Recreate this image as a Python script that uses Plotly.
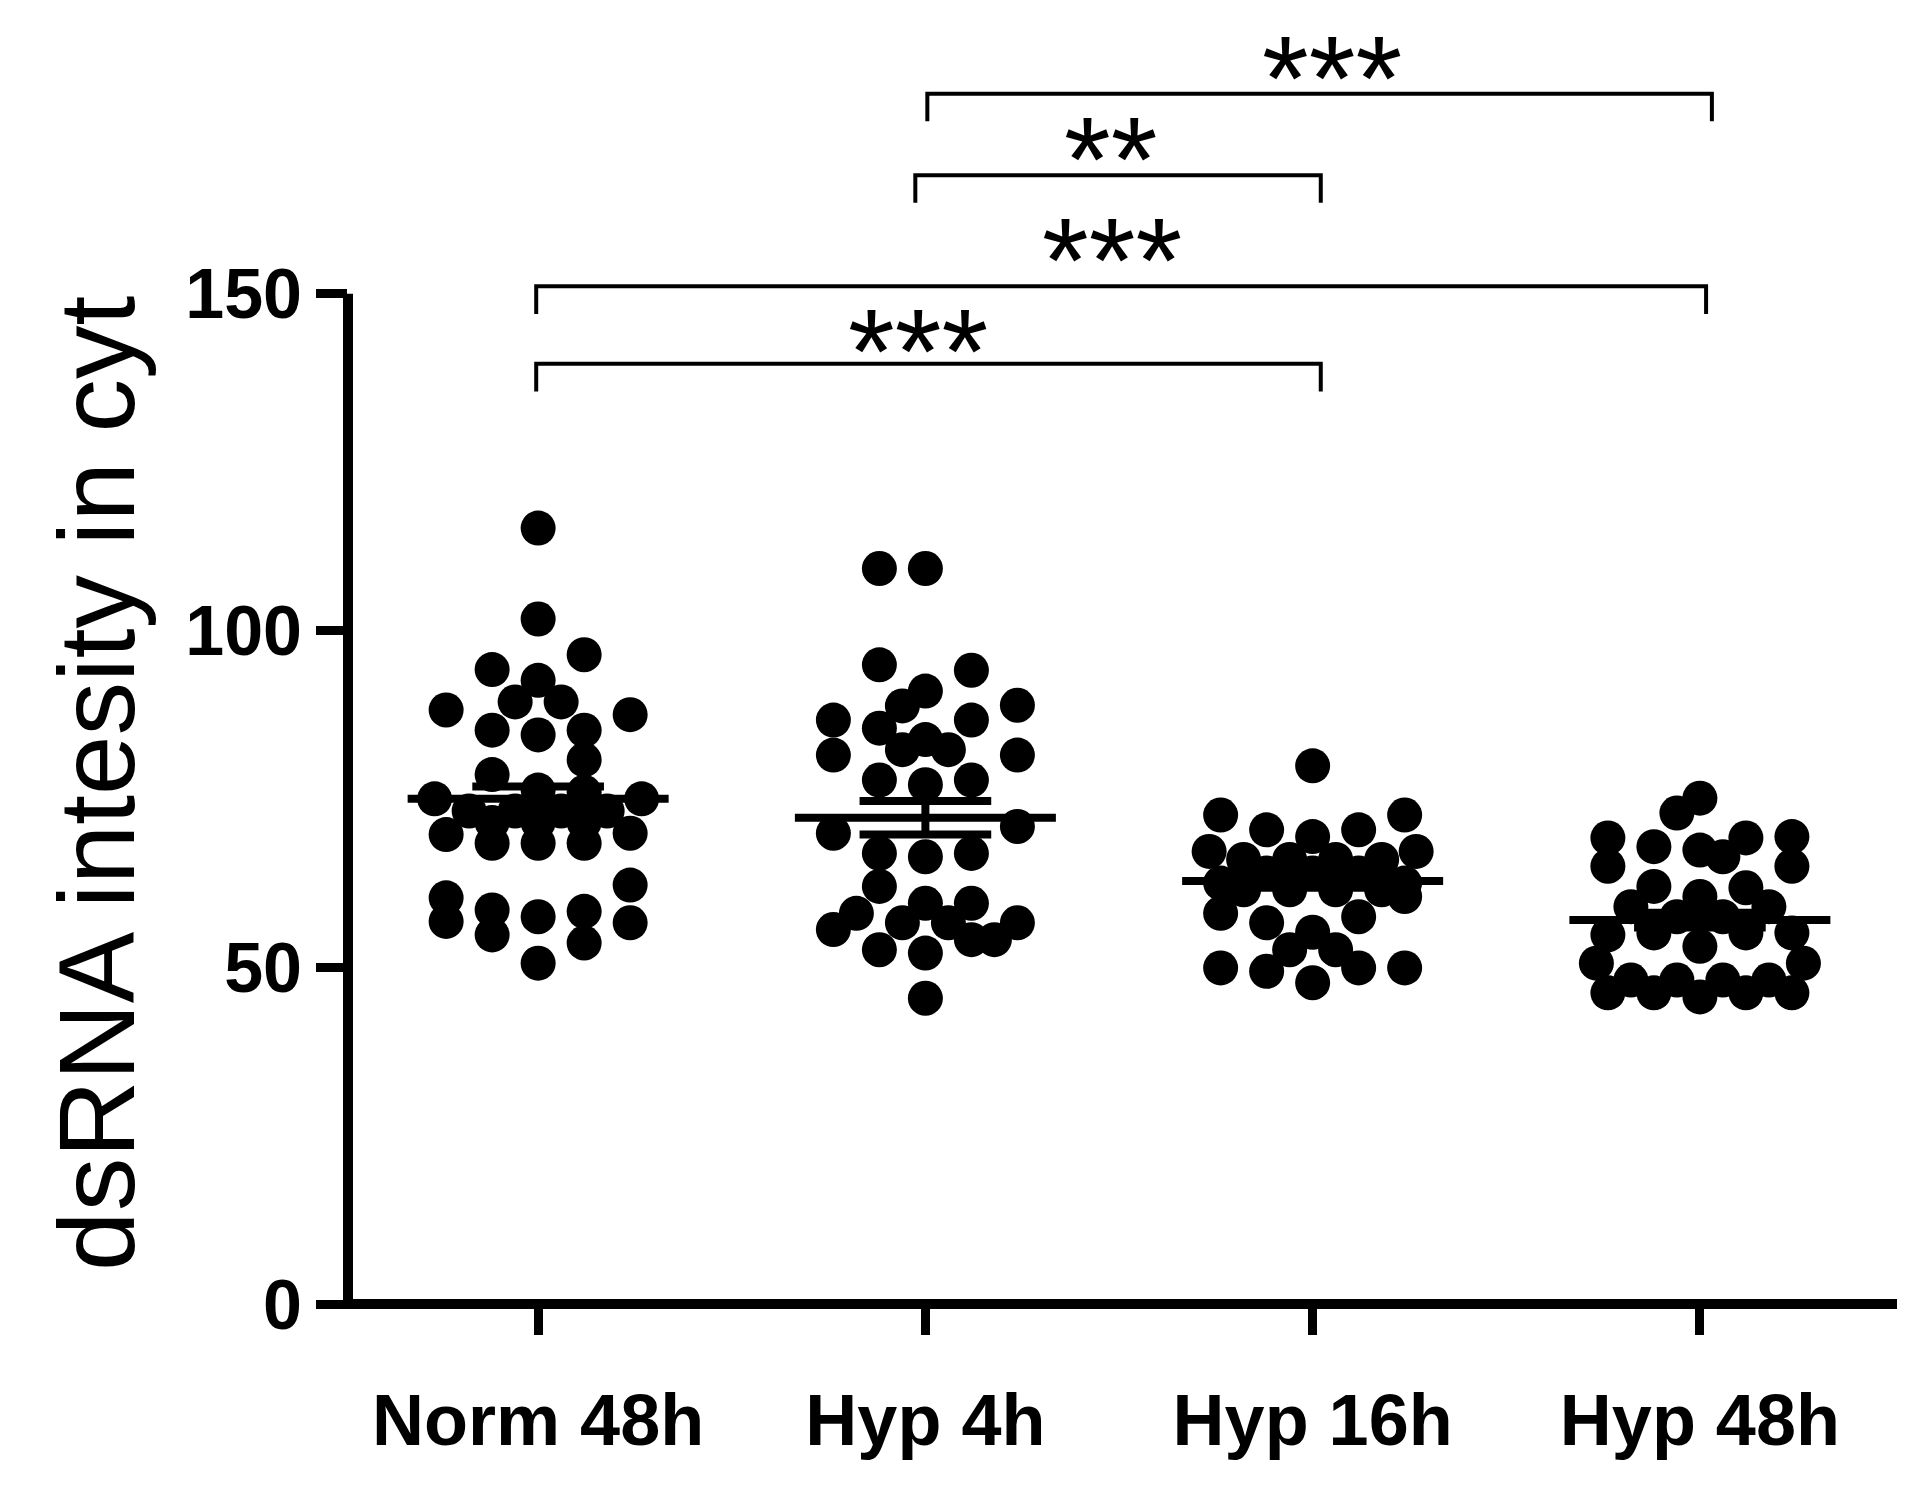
import plotly.graph_objects as go

# ---------------- data ----------------
categories = ["Norm 48h", "Hyp 4h", "Hyp 16h", "Hyp 48h"]

# individual cell values (dsRNA intensity) and their column slot in the dot plot
norm48_vals = [115.2, 101.7, 96.4, 94.2, 92.6, 89.4, 89.4, 88.2, 87.5, 85.2,
               84.5, 85.2, 80.8, 78.6, 76.0, 76.3, 75.0, 75.0, 73.2, 73.2,
               73.2, 73.2, 71.5, 71.5, 71.5, 69.7, 68.4, 68.4, 68.4, 69.9,
               62.2, 60.3, 58.5, 58.3, 57.5, 56.8, 56.6, 54.8, 53.6, 50.6]
norm48_cols = [0, 0, 2, -2, 0, -1, 1, -4, 4, -2,
               0, 2, 2, -2, 2, 0, -4.5, 4.5, -3, -1,
               1, 3, -2, 0, 2, -4, -2, 0, 2, 4,
               4, -4, -2, 2, 0, -4, 4, -2, 2, 0]

hyp4_vals = [109.2, 109.2, 94.9, 94.1, 91.0, 88.8, 88.9, 86.7, 86.7, 85.5,
             83.8, 82.3, 82.3, 81.5, 81.5, 77.8, 77.1, 77.8, 70.9, 69.9,
             66.9, 66.4, 66.9, 62.0, 59.5, 59.5, 58.0, 56.6, 56.6, 56.6,
             55.6, 54.1, 54.1, 52.6, 52.1, 45.4]
hyp4_cols = [-2, 0, -2, 2, 0, -1, 4, -4, 2, -2,
             0, -1, 1, -4, 4, -2, 0, 2, 4, -4,
             -2, 0, 2, -2, 0, 2, -3, -1, 1, 4,
             -4, 2, 3, -2, 0, 0]

hyp16_vals = [79.9, 72.6, 72.6, 70.4, 70.4, 69.4, 67.2, 67.2, 66.0, 66.0,
              66.0, 66.0, 64.0, 64.0, 64.0, 62.5, 62.5, 61.5, 61.5, 61.5,
              61.5, 60.5, 58.0, 57.5, 56.6, 55.2, 52.6, 52.6, 49.9, 49.9,
              49.4, 47.7, 49.9]
hyp16_cols = [0, -4, 4, -2, 2, 0, -4.5, 4.5, -3, -1,
              1, 3, -2, 0, 2, -4, 4, -3, -1, 1,
              3, 4, -4, 2, -2, 0, -1, 1, 2, -4,
              -2, 0, 4]

hyp48_vals = [75.1, 72.9, 69.2, 65.0, 67.9, 67.4, 69.2, 66.4, 69.4, 65.0,
              62.0, 60.5, 61.8, 59.0, 57.5, 57.5, 59.0, 54.8, 55.1, 55.1,
              55.1, 53.1, 50.6, 50.6, 48.1, 48.1, 48.1, 48.1, 46.2, 46.2,
              45.6, 46.2, 46.2]
hyp48_cols = [0, -1, -4, -4, -2, 0, 2, 1, 4, 4,
              -2, 0, 2, -3, -1, 1, 3, -4, -2, 2,
              4, 0, -4.5, 4.5, -3, -1, 1, 3, -4, -2,
              0, 2, 4]

group_means = [75.0, 72.2, 62.8, 57.0]
group_sems = [1.85, 2.5, 1.0, 1.1]

y_tick_vals = [0, 50, 100, 150]
y_tick_text = ["0", "50", "100", "150"]
y_title = "dsRNA intesity in cyt"

# significance brackets (category-axis coordinates)
sig_x0 = [-0.005, -0.005, 0.974, 1.005]
sig_x1 = [2.021, 3.016, 2.021, 3.031]
sig_h = [139.6, 151.1, 167.6, 179.7]
sig_text = ["***", "***", "**", "***"]
sig_text_x = [0.982, 1.481, 1.479, 2.051]
sig_text_y = [144.0, 157.5, 172.5, 184.5]

# ---------------- styling ----------------
FONT = "Liberation Sans, Arial, sans-serif"
Y_RANGE = [0, 185]
Y_AXIS_TOP = 150
X_RANGE = [-0.491, 3.509]
COL_STEP = 0.0594       # horizontal slot width of the dot columns
MEAN_HALF = 0.337
CAP_HALF = 0.17
DROP = 4.1

fig = go.Figure()

groups = [(norm48_vals, norm48_cols), (hyp4_vals, hyp4_cols),
          (hyp16_vals, hyp16_cols), (hyp48_vals, hyp48_cols)]
for i, (vals, cols) in enumerate(groups):
    fig.add_trace(go.Scatter(
        x=[i + c * COL_STEP for c in cols], y=vals, mode="markers",
        marker=dict(size=35, color="black", line=dict(width=0)),
        showlegend=False, hoverinfo="skip"))

for i, (m, s) in enumerate(zip(group_means, group_sems)):
    line = dict(color="black", width=8)
    fig.add_trace(go.Scatter(x=[i - MEAN_HALF, i + MEAN_HALF], y=[m, m],
                             mode="lines", line=line, showlegend=False, hoverinfo="skip"))
    fig.add_trace(go.Scatter(x=[i, i], y=[m - s, m + s],
                             mode="lines", line=line, showlegend=False, hoverinfo="skip"))
    for yy in (m - s, m + s):
        fig.add_trace(go.Scatter(x=[i - CAP_HALF, i + CAP_HALF], y=[yy, yy],
                                 mode="lines", line=line, showlegend=False, hoverinfo="skip"))

for x0, x1, h in zip(sig_x0, sig_x1, sig_h):
    fig.add_trace(go.Scatter(x=[x0, x0, x1, x1], y=[h - DROP, h, h, h - DROP],
                             mode="lines", line=dict(color="black", width=4),
                             showlegend=False, hoverinfo="skip"))

for t, x, y in zip(sig_text, sig_text_x, sig_text_y):
    fig.add_annotation(x=x, y=y, text=t, showarrow=False, xanchor="center",
                       yanchor="middle", yshift=-17,
                       font=dict(family=FONT, size=120, color="black"))

W, H = 1905, 1492
ML, MR, MT, MB = 348, 8, 57.6, 187.5
plot_h = H - MT - MB
plot_w = W - ML - MR

fig.add_annotation(x=(97 - ML) / plot_w, y=(H - MB - 784) / plot_h,
                   xref="paper", yref="paper", text=y_title, textangle=-90,
                   showarrow=False, xanchor="center", yanchor="middle",
                   font=dict(family=FONT, size=107, color="black"))

# axis lines
fig.add_shape(type="line", xref="paper", yref="paper",
              x0=-5 / plot_w, x1=1, y0=0, y1=0,
              line=dict(color="black", width=10))
fig.add_shape(type="line", xref="paper", yref="paper",
              x0=0, x1=0, y0=-5 / plot_h, y1=(Y_AXIS_TOP - Y_RANGE[0]) / (Y_RANGE[1] - Y_RANGE[0]),
              line=dict(color="black", width=10))

fig.update_layout(
    width=W, height=H,
    margin=dict(l=ML, r=MR, t=MT, b=MB, pad=0),
    paper_bgcolor="white", plot_bgcolor="white",
    font=dict(family=FONT, color="black"),
    xaxis=dict(range=X_RANGE, tickmode="array", tickvals=list(range(len(categories))),
               ticktext=categories, ticks="outside", ticklen=30, tickwidth=9,
               tickcolor="black", showline=False, showgrid=False, zeroline=False,
               ticklabelstandoff=24,
               tickfont=dict(family=FONT, size=72, color="black", weight="bold")),
    yaxis=dict(range=Y_RANGE, tickmode="array", tickvals=y_tick_vals, ticktext=y_tick_text,
               ticks="outside", ticklen=31, tickwidth=9, tickcolor="black",
               showline=False, showgrid=False, zeroline=False,
               tickfont=dict(family=FONT, size=70, color="black", weight="bold")),
)

fig.write_html("out.html", config={"displayModeBar": False},
               post_script="document.body.style.margin='0';")
